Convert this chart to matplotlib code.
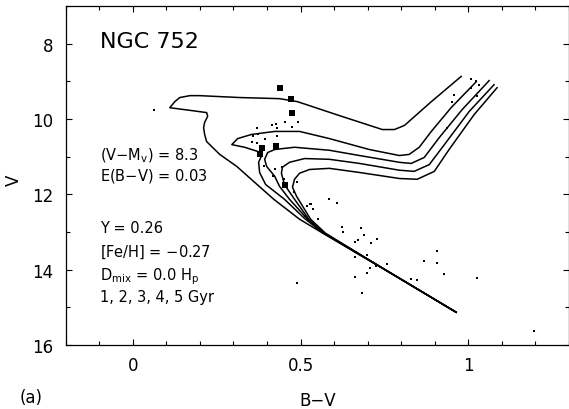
import matplotlib
matplotlib.use("Agg")
import matplotlib.pyplot as plt

plt.rcParams['font.family'] = ['DejaVu Sans']
plt.rcParams['mathtext.fontset'] = 'dejavusans'

# ---- isochrones (B-V, V) for 1..5 Gyr ----
iso1_bv = [0.979, 0.890, 0.810, 0.780, 0.744, 0.616, 0.491, 0.4375, 0.318, 0.199, 0.170, 0.140, 0.125,
           0.110, 0.170, 0.220, 0.223, 0.214, 0.211, 0.214, 0.220, 0.259, 0.310, 0.363, 0.420, 0.497,
           0.5625, 0.765, 0.964]
iso1_v = [8.87, 9.54, 10.17, 10.28, 10.28, 9.91, 9.54, 9.46, 9.43, 9.38, 9.38, 9.43, 9.54,
          9.70, 9.77, 9.83, 9.93, 10.09, 10.23, 10.41, 10.60, 10.94, 11.26, 11.68, 12.13, 12.66,
          13.01, 14.07, 15.13]

iso2_bv = [1.024, 0.949, 0.890, 0.854, 0.824, 0.795, 0.705, 0.586, 0.497, 0.423, 0.354, 0.3125, 0.295,
           0.333, 0.372, 0.384, 0.375, 0.378, 0.396, 0.452, 0.512, 0.565, 0.765, 0.964]
iso2_v = [9.01, 9.70, 10.33, 10.75, 10.94, 10.97, 10.81, 10.52, 10.33, 10.33, 10.41, 10.52, 10.68,
          10.75, 10.86, 10.97, 11.15, 11.42, 11.74, 12.13, 12.64, 13.01, 14.07, 15.13]

iso3_bv = [1.0625, 0.982, 0.914, 0.869, 0.830, 0.795, 0.676, 0.586, 0.482, 0.423, 0.402, 0.393, 0.399,
           0.423, 0.4375, 0.467, 0.521, 0.568, 0.765, 0.964]
iso3_v = [8.98, 9.75, 10.49, 11.02, 11.18, 11.15, 10.97, 10.83, 10.75, 10.81, 10.89, 11.07, 11.26,
          11.52, 11.79, 12.13, 12.66, 13.03, 14.07, 15.13]

iso4_bv = [1.077, 1.003, 0.929, 0.884, 0.839, 0.795, 0.676, 0.586, 0.512, 0.467, 0.446, 0.443, 0.452,
           0.482, 0.527, 0.571, 0.765, 0.964]
iso4_v = [9.09, 9.80, 10.68, 11.21, 11.39, 11.36, 11.18, 11.07, 11.05, 11.15, 11.28, 11.44, 11.74,
          12.13, 12.69, 13.03, 14.07, 15.13]

iso5_bv = [1.086, 1.018, 0.943, 0.899, 0.848, 0.795, 0.676, 0.586, 0.527, 0.497, 0.482, 0.476, 0.488,
           0.530, 0.574, 0.765, 0.964]
iso5_v = [9.17, 9.88, 10.81, 11.39, 11.60, 11.58, 11.42, 11.31, 11.34, 11.44, 11.60, 11.81, 12.05,
          12.66, 13.03, 14.07, 15.13]

# ---- photometry ----
star_bv = [0.0625, 0.369, 0.414, 0.426, 0.429, 0.455, 0.476, 0.491, 0.357, 0.372, 0.393, 0.429, 0.354,
           0.369, 0.390, 0.423, 0.417, 0.446, 0.452, 0.488, 0.482, 0.527, 0.536, 0.518, 0.530, 0.551,
           0.512, 0.586, 0.610, 0.625, 0.628, 0.679, 0.690, 0.670, 0.661, 0.711, 0.729, 0.661, 0.699,
           0.708, 0.726, 0.699, 0.759, 0.661, 0.682, 0.830, 0.848, 0.869, 0.908, 0.908, 0.929, 1.027,
           0.488, 1.196, 0.958, 0.952, 1.009, 1.024, 1.009, 1.033, 1.027, 0.9375]
star_v = [9.77, 10.23, 10.17, 10.12, 10.23, 10.09, 10.20, 10.09, 10.46, 10.41, 10.52, 10.46, 10.62,
          10.65, 11.26, 11.34, 11.52, 11.28, 11.60, 11.68, 11.95, 12.26, 12.40, 12.32, 12.26, 12.66,
          12.58, 12.13, 12.24, 12.87, 13.01, 12.90, 13.09, 13.22, 13.27, 13.30, 13.19, 13.67, 13.62,
          13.96, 13.91, 14.09, 13.85, 14.20, 14.62, 14.25, 14.28, 13.77, 13.51, 13.83, 14.12, 14.23,
          14.36, 15.63, 9.35, 9.54, 8.95, 8.98, 9.19, 9.11, 9.40, 10.23]

sq_bv = [0.4375, 0.473, 0.476, 0.384, 0.426, 0.378, 0.455]
sq_v = [9.17, 9.46, 9.85, 10.78, 10.71, 10.94, 11.76]

notes = [r"(V$-$M$_{\rm v}$) = 8.3", r"E(B$-$V) = 0.03"]
params = [r"Y = 0.26", r"[Fe/H] = $-$0.27", r"D$_{\rm mix}$ = 0.0 H$_{\rm p}$", r"1, 2, 3, 4, 5 Gyr"]

W, H = 569, 410
fig = plt.figure(figsize=(W / 100, H / 100), dpi=100)
ax = fig.add_axes([65.8 / W, 1 - 346 / H, 503 / W, 339 / H])

for bv, v in [(iso1_bv, iso1_v), (iso2_bv, iso2_v), (iso3_bv, iso3_v), (iso4_bv, iso4_v), (iso5_bv, iso5_v)]:
    ax.plot(bv, v, color='black', lw=1.1, solid_joinstyle='round')

ax.scatter(star_bv, star_v, s=2.5, color='black', marker='s', linewidths=0)
ax.scatter(sq_bv, sq_v, s=22, color='black', marker='s', linewidths=0)

ax.set_xlim(-0.2, 1.3)
ax.set_ylim(16, 7)
ax.set_xticks([0, 0.5, 1])
ax.set_xticklabels(['0', '0.5', '1'])
ax.set_xticks([x / 10 for x in range(-2, 14)], minor=True)
ax.set_yticks([8, 10, 12, 14, 16])
ax.set_yticks([7, 9, 11, 13, 15], minor=True)
ax.tick_params(which='both', direction='in', top=True, right=True, width=0.8, labelsize=12)
ax.tick_params(which='major', length=4.5)
ax.tick_params(which='minor', length=2.8)
ax.tick_params(axis='y', pad=9)
ax.tick_params(axis='x', pad=8)
for sp in ax.spines.values():
    sp.set_linewidth(0.9)

ax.set_xlabel('B−V', fontsize=12)
ax.xaxis.set_label_coords(0.5, -0.137)
ax.set_ylabel('V', fontsize=12)
ax.yaxis.set_label_coords(-0.085, 0.49)

ax.text(-0.098, 8.08, 'NGC 752', fontsize=16, va='baseline', ha='left')
for txt, yv in zip(notes, [11.07, 11.60]):
    ax.text(-0.098, yv, txt, fontsize=10.5, va='baseline', ha='left')
for txt, yv in zip(params, [13.01, 13.64, 14.25, 14.83]):
    ax.text(-0.098, yv, txt, fontsize=10.5, va='baseline', ha='left')

fig.text(20 / W, 1 - 398 / H, '(a)', fontsize=12, va='center', ha='left')

fig.savefig('out.png', dpi=100)
